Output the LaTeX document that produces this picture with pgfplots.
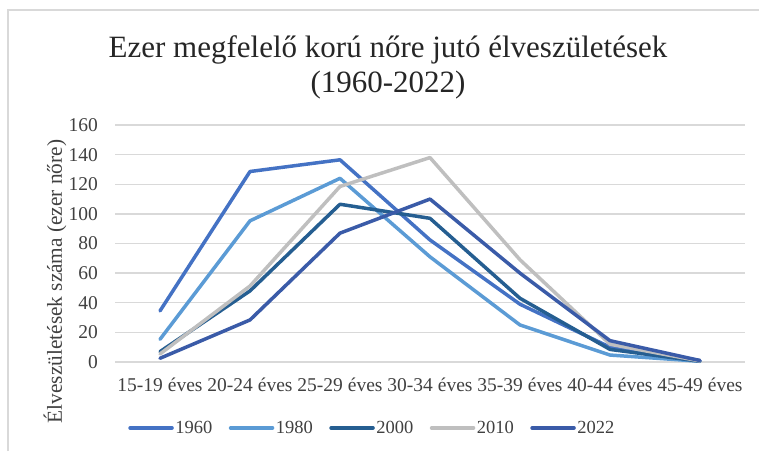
\documentclass[border=0pt]{standalone}
\usepackage{pgfplots}
\pgfplotsset{compat=1.18}
\usepackage{fontspec}
\setmainfont{Liberation Serif}
\definecolor{c1960}{HTML}{4472C4}
\definecolor{c1980}{HTML}{5B9BD5}
\definecolor{c2000}{HTML}{255E91}
\definecolor{c2010}{HTML}{BFBFBF}
\definecolor{c2022}{HTML}{3A5BA8}
\definecolor{gridc}{HTML}{D9D9D9}
\definecolor{txt}{HTML}{404040}
\begin{document}
\begin{tikzpicture}[x=1pt,y=1pt]
\useasboundingbox (0,0) rectangle (759,451);
\draw[gridc, line width=1.3pt] (8,0) -- (8,441) -- (759,441);
\node[anchor=base, font=\fontsize{31}{35}\selectfont, text=black!85, inner sep=0pt] at (388,394) {Ezer megfelelő korú nőre jutó élveszületések};
\node[anchor=base, font=\fontsize{31}{35}\selectfont, text=black!85, inner sep=0pt] at (388,359) {(1960-2022)};
\node[rotate=90, font=\fontsize{21.3}{24}\selectfont, text=txt, inner sep=0pt] at (55,169.5) {Élveszületések száma (ezer nőre)};
\begin{axis}[
  at={(115pt,89pt)}, anchor=south west, scale only axis,
  width=630pt, height=237pt,
  xmin=-0.5, xmax=6.5, ymin=0, ymax=160,
  ytick={0,20,...,160},
  xtick={0,...,6},
  xticklabels={15-19 éves,20-24 éves,25-29 éves,30-34 éves,35-39 éves,40-44 éves,45-49 éves},
  ymajorgrids, grid style={gridc, line width=1.3pt},
  axis line style={draw=none},
  major tick length=0pt, tick style={draw=none},
  /pgf/number format/assume math mode=true,
  ticklabel style={font=\fontsize{19.5}{22}\selectfont, text=txt, inner sep=0pt},
  xticklabel shift=16pt, yticklabel shift=17pt,
  clip=false,
  every axis plot/.append style={line width=3.5pt, line join=round, line cap=round, mark=none},
  legend style={at={(axis description cs:0.408,-0.278)}, anchor=center, draw=none, fill=none,
    inner sep=0pt, legend columns=5,
    nodes={inner sep=1.5pt, text=txt, font=\fontsize{18.5}{20}\selectfont},
    /tikz/every even column/.append style={column sep=15pt}},
  legend image code/.code={\draw[#1, line width=3.5pt] (0pt,0pt) -- (42pt,0pt);},
]
\addplot[c1960] coordinates {(0,34.5) (1,128.6) (2,136.5) (3,82.4) (4,39) (5,10) (6,1)};
\addplot[c1980] coordinates {(0,15.3) (1,95.3) (2,124) (3,71) (4,25) (5,4.7) (6,0.5)};
\addplot[c2000] coordinates {(0,7) (1,48) (2,106.5) (3,97) (4,43) (5,8.5) (6,0.5)};
\addplot[c2010] coordinates {(0,5.4) (1,51.3) (2,118.5) (3,138) (4,69) (5,12) (6,0.7)};
\addplot[c2022] coordinates {(0,2.5) (1,28.4) (2,87) (3,110) (4,60) (5,14.4) (6,1)};
\legend{1960,1980,2000,2010,2022}
\end{axis}
\end{tikzpicture}
\end{document}
